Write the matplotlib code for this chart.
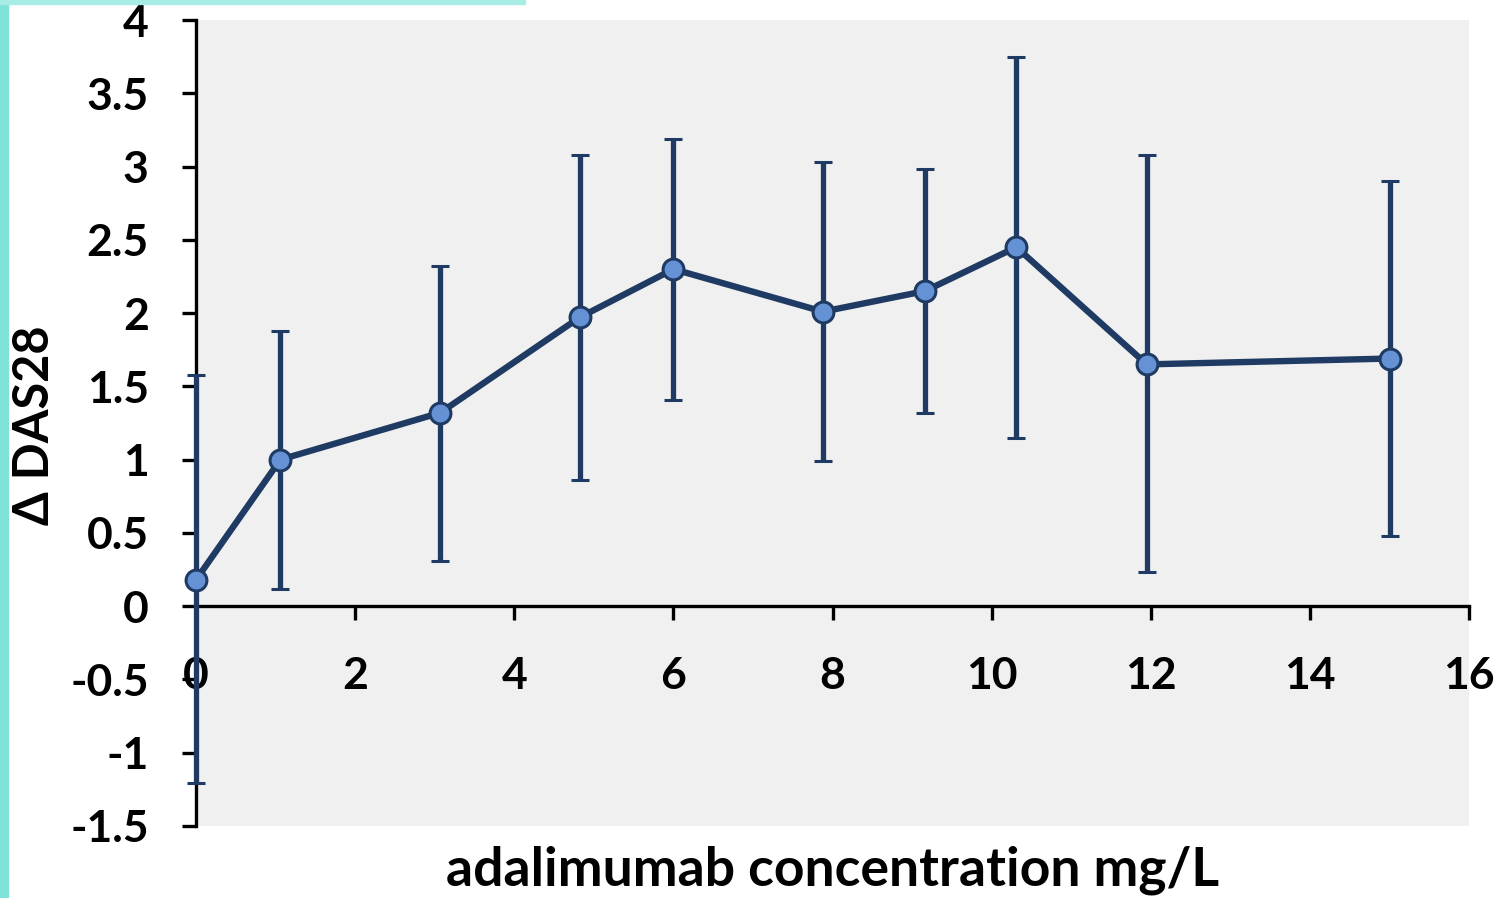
import numpy as np
import matplotlib.pyplot as plt
from matplotlib.patches import Rectangle

# data
conc = [0.0, 1.06, 3.07, 4.82, 6.0, 7.88, 9.16, 10.31, 11.95, 15.01]
das_mean = [0.18, 1.0, 1.32, 1.97, 2.30, 2.01, 2.15, 2.45, 1.65, 1.69]
das_low = [-1.21, 0.12, 0.31, 0.86, 1.41, 0.99, 1.32, 1.15, 0.23, 0.48]
das_high = [1.58, 1.88, 2.32, 3.08, 3.19, 3.03, 2.98, 3.75, 3.08, 2.90]

x_ticks = [0, 2, 4, 6, 8, 10, 12, 14, 16]
y_ticks = [-1.5, -1, -0.5, 0, 0.5, 1, 1.5, 2, 2.5, 3, 3.5, 4]
y_labels = ['-1.5', '-1', '-0.5', '0', '0.5', '1', '1.5', '2', '2.5', '3', '3.5', '4']

navy = '#1f3b63'
font = 'Lato'

fig = plt.figure(figsize=(15.01, 8.98), dpi=100, facecolor='white')

# slide background strips
fig.patches.append(Rectangle((0, 0), 0.0055, 1, transform=fig.transFigure,
                             color='#7fe3da', zorder=0))
fig.patches.append(Rectangle((0, 0.996), 0.35, 0.004, transform=fig.transFigure,
                             color='#a8ece6', zorder=0))

ax = fig.add_axes([0.1306, 0.0802, 0.8481, 0.8975])
ax.set_facecolor('#f0f0f0')

lo = np.array(das_mean) - np.array(das_low)
hi = np.array(das_high) - np.array(das_mean)
ax.errorbar(conc, das_mean, yerr=[lo, hi], color=navy, linewidth=4.6,
            elinewidth=3.8, capsize=6.5, capthick=3.8, marker='o', markersize=15,
            markerfacecolor='#6592d4', markeredgecolor=navy, markeredgewidth=2.2,
            zorder=5, clip_on=False)

ax.set_xlim(0, 16)
ax.set_ylim(-1.5, 4)
ax.set_xticks(x_ticks)
ax.set_yticks(y_ticks)
ax.set_yticklabels(y_labels)

ax.spines['top'].set_visible(False)
ax.spines['right'].set_visible(False)
ax.spines['bottom'].set_position(('data', 0))
for s in ['left', 'bottom']:
    ax.spines[s].set_linewidth(2.4)
    ax.spines[s].set_color('black')
    ax.spines[s].set_zorder(3)

ax.tick_params(axis='y', direction='out', length=10, width=2.4, pad=24,
               labelsize=32)
ax.tick_params(axis='x', direction='out', length=10, width=2.4, pad=26,
               labelsize=32)
for lab in ax.get_xticklabels() + ax.get_yticklabels():
    lab.set_fontfamily(font)
    lab.set_fontweight('bold')

fig.text(0.555, 0.031, 'adalimumab concentration mg/L', fontsize=38.5,
         fontweight='bold', fontfamily=font, ha='center', va='center')
fig.text(0.023, 0.527, 'Δ DAS28', rotation=90, fontsize=35, fontweight='bold',
         fontfamily=font, ha='center', va='center')

fig.savefig('out.png', dpi=100, facecolor='white')
